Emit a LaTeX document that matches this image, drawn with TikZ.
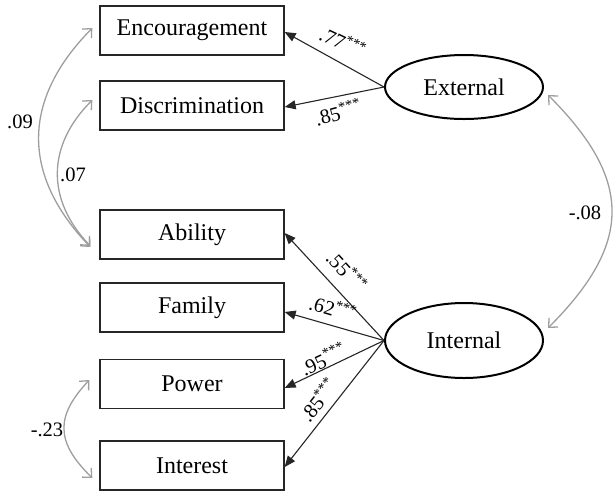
\documentclass[tikz,border=0pt]{standalone}
\usepackage{fontspec}
\setmainfont{Liberation Serif}
\usetikzlibrary{arrows.meta,calc,shapes.geometric}
\begin{document}
\begin{tikzpicture}[x=1pt,y=-1pt,
  item/.style={draw=black!85, line width=1.3pt, minimum width=184pt, minimum height=49pt,
    inner sep=0pt, font=\fontsize{24}{28}\selectfont},
  latent/.style={ellipse, draw, line width=2pt, inner sep=0pt, minimum width=158pt,
    font=\fontsize{24}{28}\selectfont},
  load/.style={line width=1.1pt, draw=black!85, -{Triangle[length=11pt,width=9pt]}},
  cov/.style={line width=1.3pt, draw=black!38,
    {Straight Barb[length=7pt,width=13pt]}-{Straight Barb[length=7pt,width=13pt]}},
  coef/.style={font=\fontsize{20.5}{24}\selectfont, inner sep=1pt}]
\useasboundingbox (0,0) rectangle (615,491);

% observed indicators
\node[item] (enc)  at (192,30.5)  {Encouragement};
\node[item] (dis)  at (192,105.5) {Discrimination};
\node[item] (abil) at (192,234.5) {Ability};
\node[item] (fam)  at (192,307.5) {Family};
\node[item] (pow)  at (192,384)   {Power};
\node[item] (intr) at (192,465.5) {Interest};

% latent factors
\node[latent, minimum height=64pt] (ext)  at (464,87)    {External};
\node[latent, minimum height=75pt] (intl) at (464,340.5) {Internal};

% factor loadings
\draw[load] (ext.west) -- ($(enc.east)+(0,1.5)$);
\draw[load] (ext.west) -- ($(dis.east)+(0,1.5)$);
\draw[load] (intl.west) -- ($(abil.east)+(0,-1.5)$);
\draw[load] (intl.west) -- ($(fam.east)+(0,4.5)$);
\draw[load] (intl.west) -- ($(pow.east)+(0,4)$);
\draw[load] (intl.west) -- ($(intr.east)+(0,1.5)$);

\node[coef, rotate=-25.6] (cEnc)  at (343,42)  {.77\textsuperscript{***}};
\node[coef, rotate=15]    (cDis)  at (338,112) {.85\textsuperscript{***}};
\node[coef, rotate=-47.5] (cAbil) at (347,271) {.55\textsuperscript{***}};
\node[coef, rotate=-16.7] (cFam)  at (333,308) {.62\textsuperscript{***}};
\node[coef, rotate=24.7]  (cPow)  at (323,359) {.95\textsuperscript{***}};
\node[coef, rotate=51.3]  (cIntr) at (318,400) {.85\textsuperscript{***}};

% residual and factor covariances
\draw[cov] ($(enc.west)+(-7,-2.5)$) .. controls +(-71,72) and +(-69,-72) .. ($(abil.west)+(-9,12.5)$);
\draw[cov] ($(dis.west)+(-7,-5.5)$) .. controls +(-46,46) and +(-44,-46) .. ($(abil.west)+(-9,11.5)$);
\draw[cov] ($(pow.west)+(-10,-4)$) .. controls +(-34,36) and +(-37,-36) .. ($(intr.west)+(-7,12.5)$);
\draw[cov] ($(ext.east)+(4,8)$) .. controls +(85,85) and +(85,-85) .. ($(intl.east)+(4,-12.5)$);

\node[coef] (rEncAbil) at (20,122) {.09};
\node[coef] (rDisAbil) at (73,175) {.07};
\node[coef] (rPowIntr) at (47,430) {-.23};
\node[coef] (rExtIntl) at (585,213) {-.08};
\end{tikzpicture}
\end{document}
